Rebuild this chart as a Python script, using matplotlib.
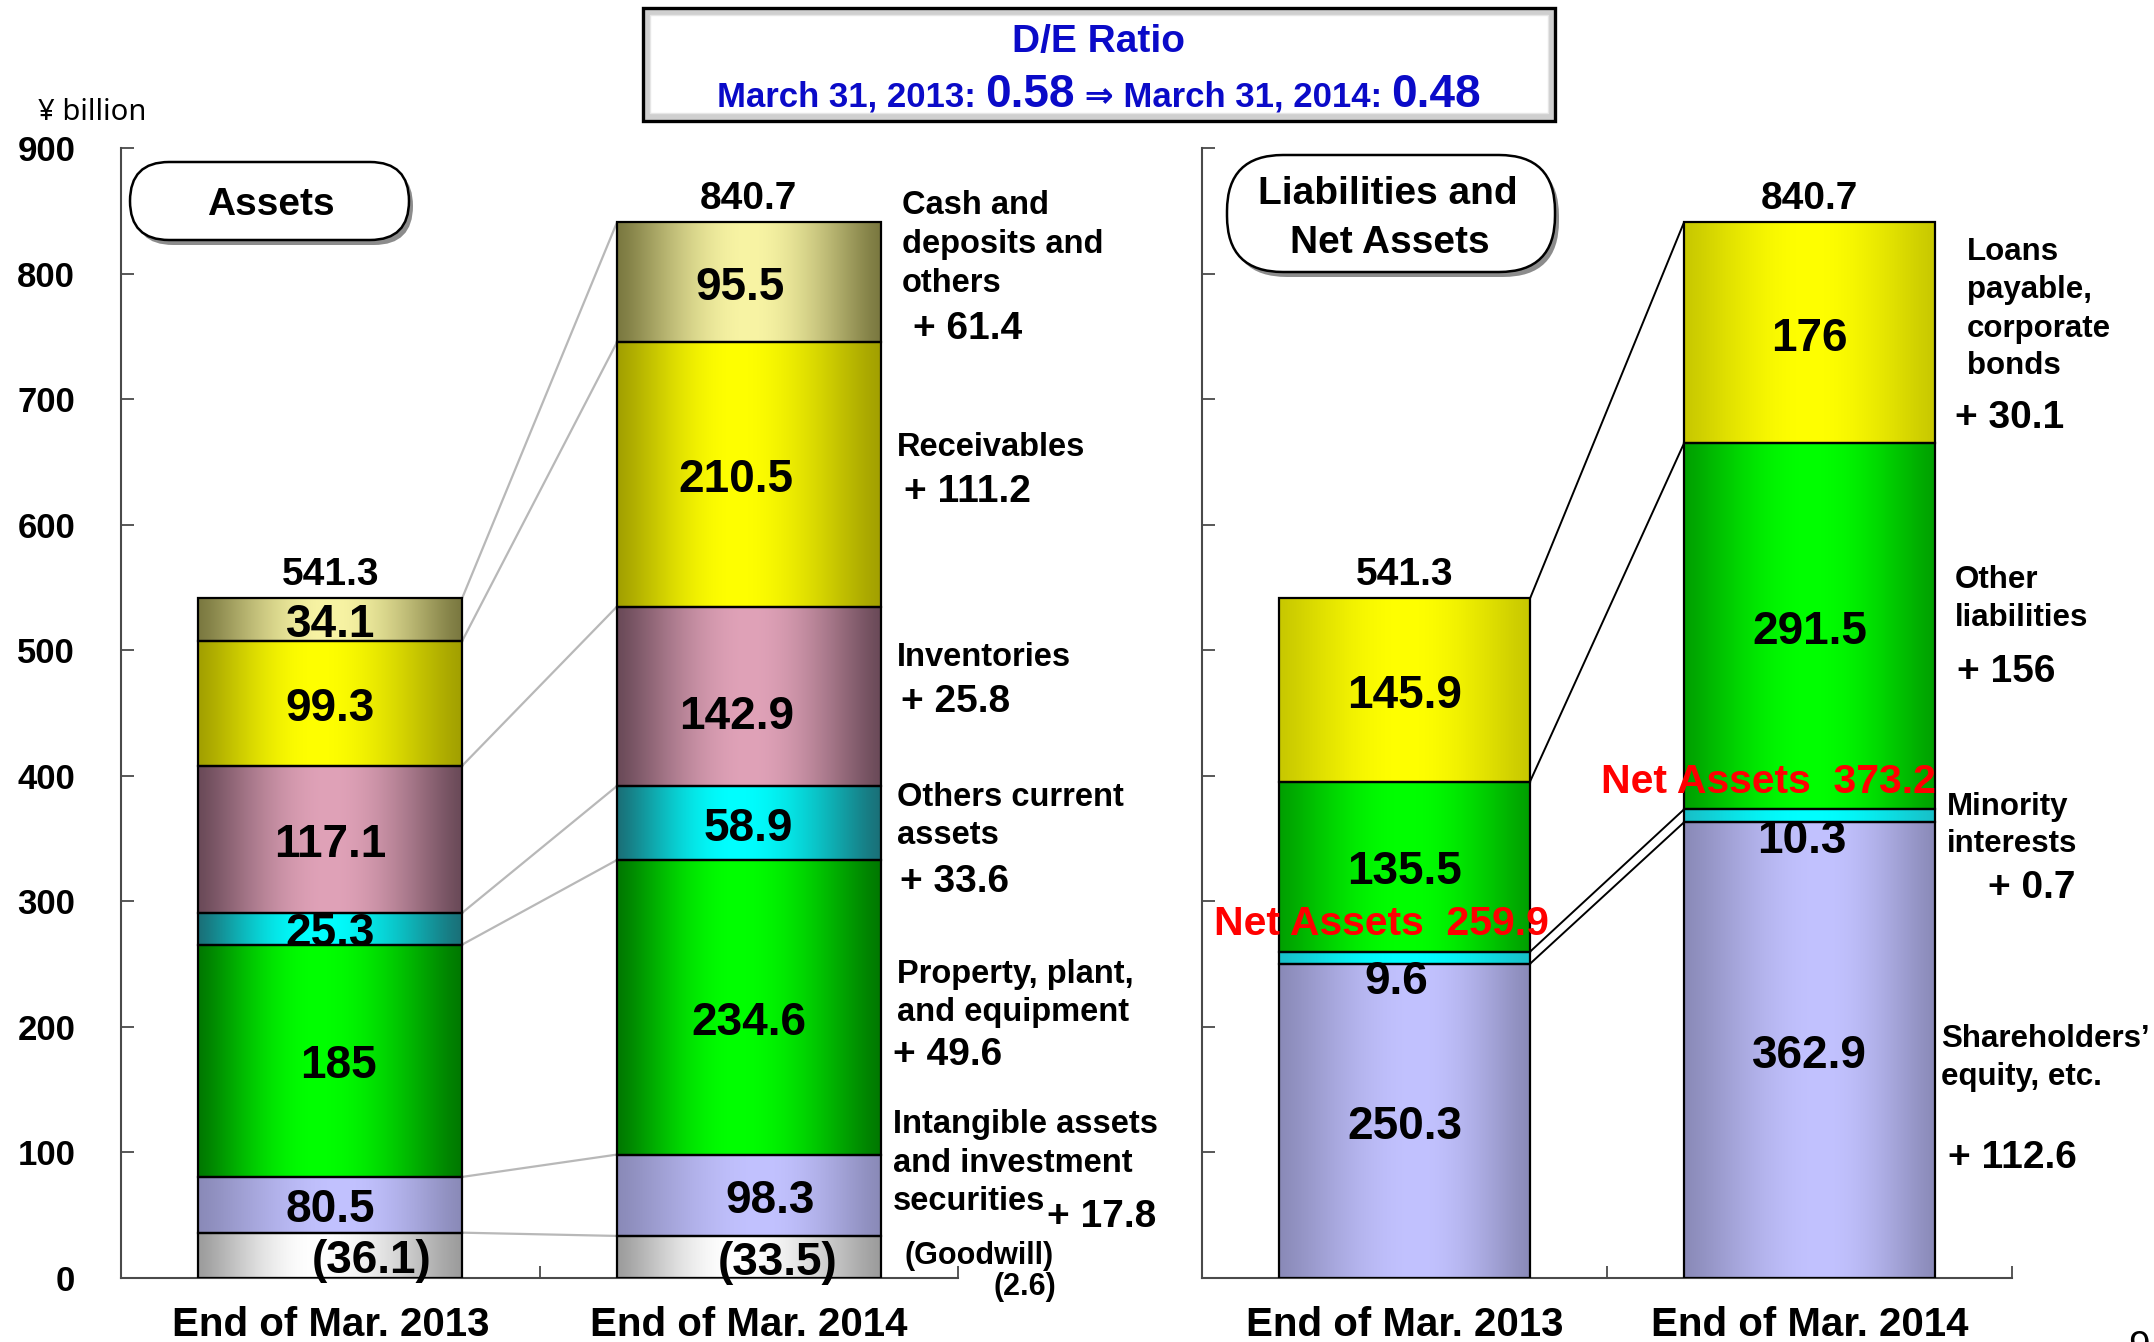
import numpy as np
import matplotlib
matplotlib.use("Agg")
import matplotlib.pyplot as plt
from matplotlib.patches import FancyBboxPatch, Rectangle
from matplotlib.transforms import IdentityTransform
from matplotlib.colors import to_rgb

W, H, DPI = 2154, 1342, 100

periods = ["End of Mar. 2013", "End of Mar. 2014"]

# Assets (¥ billion); intangibles figure includes goodwill
goodwill = [36.1, 33.5]
intangibles_investments = [80.5, 98.3]
ppe = [185.0, 234.6]
other_current = [25.3, 58.9]
inventories = [117.1, 142.9]
receivables = [99.3, 210.5]
cash_deposits = [34.1, 95.5]
total_assets = [541.3, 840.7]

# Liabilities and net assets (¥ billion)
shareholders_equity = [250.3, 362.9]
minority_interests = [9.6, 10.3]
other_liabilities = [135.5, 291.5]
loans_bonds = [145.9, 176.0]
total_liab_net = [541.3, 840.7]
net_assets = [259.9, 373.2]

de_dates = ["March 31, 2013", "March 31, 2014"]
de_ratio = [0.58, 0.48]

y_ticks = [0, 100, 200, 300, 400, 500, 600, 700, 800, 900]

FONT = ["Liberation Sans", "DejaVu Sans"]
plt.rcParams["font.family"] = FONT

# edge colour, centre colour, position of brightest point
STYLE = {
    "gray":      ("#9c9c9c", "#ffffff", 0.45),
    "lavender":  ("#8a8ab8", "#c2c2ff", 0.55),
    "green":     ("#007800", "#00ff00", 0.45),
    "cyan":      ("#1a7078", "#00ffff", 0.45),
    "pink":      ("#6a4a58", "#e0a2b8", 0.5),
    "yellow":    ("#a2a000", "#ffff00", 0.45),
    "olive":     ("#7a7840", "#f8f4a4", 0.5),
    "r_yellow":  ("#c8c800", "#ffff00", 0.5),
    "r_green":   ("#00a000", "#00ff00", 0.5),
    "r_cyan":    ("#18c0c8", "#00ffff", 0.5),
    "r_lavender": ("#8a8ab8", "#c2c2ff", 0.55),
}

LABEL_SHIFT = -4.5   # value labels sit slightly below segment midpoints


def gradient_fill(ax, patch, style):
    edge, centre, peak = STYLE[style]
    t = np.linspace(0, 1, 256)
    w = np.where(t < peak, t / peak, (1 - t) / (1 - peak))
    w = np.sin(w * np.pi / 2) ** 1.2
    e, c = np.array(to_rgb(edge)), np.array(to_rgb(centre))
    img = (e + (c - e) * w[:, None])[None, :, :]
    x0, y0 = patch.get_x(), patch.get_y()
    im = ax.imshow(img, extent=[x0, x0 + patch.get_width(), y0, y0 + patch.get_height()],
                   aspect="auto", interpolation="bilinear", zorder=2)
    im.set_clip_path(patch)


def stack(ax, x, segs, width):
    bottom = 0.0
    tops = []
    for value, style, base in segs:
        b = bottom if base is None else base
        rect = ax.bar(x, value, width, bottom=b, facecolor="none",
                      edgecolor="black", linewidth=1.6, zorder=3)[0]
        gradient_fill(ax, rect, style)
        bottom = b + value
        tops.append(bottom)
    return tops


fig = plt.figure(figsize=(W / DPI, H / DPI), dpi=DPI)


def px_axes(x0, x1, y_top, y_bottom):
    return fig.add_axes([x0 / W, 1 - y_bottom / H, (x1 - x0) / W, (y_bottom - y_top) / H])


def style_axes(ax, labels):
    ax.set_xlim(-0.5, 1.5)
    ax.set_ylim(0, 900)
    for s in ("top", "right"):
        ax.spines[s].set_visible(False)
    for s in ("left", "bottom"):
        ax.spines[s].set_color("#4a4a4a")
        ax.spines[s].set_linewidth(1.5)
    ax.set_yticks(y_ticks)
    ax.tick_params(axis="y", direction="in", length=9, width=1.3, color="#4a4a4a",
                   labelleft=labels, pad=33, labelsize=25)
    for lab in ax.get_yticklabels():
        lab.set_fontweight("bold")
    ax.set_xticks([0, 1])
    ax.set_xticklabels(periods, fontsize=29, fontweight="bold")
    ax.tick_params(axis="x", length=0, pad=20)
    ax.set_xticks([0.5, 1.5], minor=True)
    ax.tick_params(axis="x", which="minor", direction="in", length=9, width=1.3, color="#4a4a4a")
    ax.patch.set_alpha(0)


# ---------------- Assets panel ----------------
axL = px_axes(121, 958, 148, 1278)
BW_L = 0.63
asset_tops = []
# horizontal / vertical nudges of the value labels, per period and segment
DX_L = [[0.10, 0.0, 0.02, 0.0, 0.0, 0.0, 0.0],
        [0.07, 0.05, 0.0, 0.0, -0.03, -0.03, -0.02]]
DY_L = [[0, 0, 0, 0, 0, 0, 0],
        [0, 0, -8, 0, -12, 0, 0]]
for i in range(2):
    segs = [
        (goodwill[i], "gray", 0.0),
        (intangibles_investments[i] - goodwill[i], "lavender", goodwill[i]),
        (ppe[i], "green", None),
        (other_current[i], "cyan", None),
        (inventories[i], "pink", None),
        (receivables[i], "yellow", None),
        (cash_deposits[i], "olive", None),
    ]
    tops = stack(axL, i, segs, BW_L)
    asset_tops.append(tops)
    vals = [goodwill[i], intangibles_investments[i], ppe[i], other_current[i],
            inventories[i], receivables[i], cash_deposits[i]]
    bottoms = [0.0] + tops[:-1]
    for k, v in enumerate(vals):
        txt = f"({v:g})" if k == 0 else f"{v:g}"
        axL.text(i + DX_L[i][k], (bottoms[k] + tops[k]) / 2 + LABEL_SHIFT + DY_L[i][k], txt,
                 ha="center", va="center", fontsize=33, fontweight="bold", zorder=5)
    axL.text(i, total_assets[i] + 4, f"{total_assets[i]:g}", ha="center", va="bottom",
             fontsize=28, fontweight="bold", zorder=5)

for k in range(len(asset_tops[0])):
    axL.plot([0 + BW_L / 2, 1 - BW_L / 2], [asset_tops[0][k], asset_tops[1][k]],
             color="#b8b8b8", lw=1.6, zorder=1, solid_capstyle="butt")
style_axes(axL, True)

# ---------------- Liabilities and net assets panel ----------------
axR = px_axes(1202, 2012, 148, 1278)
BW_R = 0.62
liab_tops = []
NET_DX = [0.046, 0.003]
for i in range(2):
    segs = [
        (shareholders_equity[i], "r_lavender", None),
        (minority_interests[i], "r_cyan", None),
        (other_liabilities[i], "r_green", None),
        (loans_bonds[i], "r_yellow", None),
    ]
    tops = stack(axR, i, segs, BW_R)
    liab_tops.append(tops)
    bottoms = [0.0] + tops[:-1]
    axR.text(i, (bottoms[0] + tops[0]) / 2 + LABEL_SHIFT, f"{shareholders_equity[i]:g}",
             ha="center", va="center", fontsize=33, fontweight="bold", zorder=5)
    axR.text(i - 0.02, tops[0] + 3, f"{minority_interests[i]:g}", ha="center", va="top",
             fontsize=33, fontweight="bold", zorder=5)
    axR.text(i, (bottoms[2] + tops[2]) / 2 + LABEL_SHIFT, f"{other_liabilities[i]:g}",
             ha="center", va="center", fontsize=33, fontweight="bold", zorder=5)
    axR.text(i, (bottoms[3] + tops[3]) / 2 + LABEL_SHIFT, f"{loans_bonds[i]:g}",
             ha="center", va="center", fontsize=33, fontweight="bold", zorder=5)
    axR.text(i, total_liab_net[i] + 4, f"{total_liab_net[i]:g}", ha="center", va="bottom",
             fontsize=28, fontweight="bold", zorder=5)
    axR.text(i + BW_R / 2 + NET_DX[i], net_assets[i] + 7, f"Net Assets  {net_assets[i]:g}",
             ha="right", va="bottom", fontsize=29.5, fontweight="bold", color="#ff0000", zorder=6)

for k in range(len(liab_tops[0])):
    axR.plot([0 + BW_R / 2, 1 - BW_R / 2], [liab_tops[0][k], liab_tops[1][k]],
             color="black", lw=1.4, zorder=1, solid_capstyle="butt")
style_axes(axR, False)


# ---------------- Figure-level decorations ----------------
def ftext(x, y, s, **kw):
    return fig.text(x / W, 1 - y / H, s, **kw)


def pill(x0, y0, x1, y1, r):
    shadow = FancyBboxPatch((x0 + 4, H - y1 - 5), x1 - x0, y1 - y0,
                            boxstyle=f"round,pad=0,rounding_size={r}",
                            transform=IdentityTransform(), fc="#8c8c8c", ec="none", zorder=0)
    body = FancyBboxPatch((x0, H - y1), x1 - x0, y1 - y0,
                          boxstyle=f"round,pad=0,rounding_size={r}",
                          transform=IdentityTransform(), fc="white", ec="black", lw=1.8, zorder=1)
    fig.add_artist(shadow)
    fig.add_artist(body)


pill(130, 162, 409, 240, 39)
ftext(271, 205, "Assets", ha="center", va="center", fontsize=28, fontweight="bold")
pill(1227, 155, 1555, 272, 56)
ftext(1388, 194, "Liabilities and", ha="center", va="center", fontsize=28, fontweight="bold")
ftext(1390, 243, "Net Assets", ha="center", va="center", fontsize=28, fontweight="bold")

ftext(38, 112, "¥ billion", ha="left", va="center", fontsize=21,
      family=["Noto Sans", "DejaVu Sans"])

# D/E ratio box
fig.add_artist(Rectangle((643, H - 121), 912, 113, transform=IdentityTransform(),
                         fc="#cfcfcf", ec="black", lw=2.4, zorder=0))
fig.add_artist(Rectangle((650, H - 113), 898, 98, transform=IdentityTransform(),
                         fc="white", ec="#e6e6e6", lw=1.0, zorder=0))
BLUE = "#0a0ac8"
ftext(1099, 42, "D/E Ratio", ha="center", va="center", fontsize=28, fontweight="bold", color=BLUE)

pieces = [(f"{de_dates[0]}: ", 25), (f"{de_ratio[0]:.2f}", 33),
          (f" ⇒ {de_dates[1]}: ", 25), (f"{de_ratio[1]:.2f}", 33)]
renderer = fig.canvas.get_renderer()
widths = []
arts = []
for s, fs in pieces:
    t = ftext(0, 107, s, ha="left", va="baseline", fontsize=fs, fontweight="bold",
              color=BLUE, family=FONT)
    widths.append(t.get_window_extent(renderer).width)
    arts.append(t)
x = 1099 - sum(widths) / 2
for t, w in zip(arts, widths):
    t.set_x(x / W)
    x += w


def d(a, b):
    return round(b - a, 1)


NOTE_DY = 3

# Asset change notes
asset_notes = [
    (902, [(203, "Cash and"), (242, "deposits and"), (280, "others")],
     (913, 326, f"+ {d(*cash_deposits):g}")),
    (897, [(445, "Receivables")], (904, 489, f"+ {d(*receivables):g}")),
    (897, [(654, "Inventories")], (901, 699, f"+ {d(*inventories):g}")),
    (897, [(794, "Others current"), (832, "assets")], (900, 879, f"+ {d(*other_current):g}")),
    (897, [(971, "Property, plant,"), (1010, "and equipment")], (893, 1052, f"+ {d(*ppe):g}")),
    (893, [(1122, "Intangible assets"), (1161, "and investment"), (1198, "securities")],
     (1047, 1214, f"+ {d(*intangibles_investments):g}")),
]
for xl, lines, (xc, yc, ch) in asset_notes:
    for yy, s in lines:
        ftext(xl, yy + NOTE_DY, s, ha="left", va="center", fontsize=23.5, fontweight="bold")
    ftext(xc, yc + NOTE_DY, ch, ha="left", va="center", fontsize=28, fontweight="bold")
ftext(904, 1253 + NOTE_DY, "(Goodwill)", ha="left", va="center", fontsize=22, fontweight="bold")
ftext(1025, 1284 + NOTE_DY, f"({abs(d(*goodwill)):g})", ha="center", va="center", fontsize=22,
      fontweight="bold")

# Liability change notes
liab_notes = [
    (1967, [(249, "Loans"), (287, "payable,"), (326, "corporate"), (363, "bonds")],
     (1955, 415, f"+ {d(*loans_bonds):g}")),
    (1955, [(577, "Other"), (615, "liabilities")], (1957, 669, f"+ {d(*other_liabilities):g}")),
    (1947, [(804, "Minority"), (841, "interests")], (1988, 885, f"+ {d(*minority_interests):g}")),
    (1941, [(1036, "Shareholders’"), (1074, "equity, etc.")],
     (1948, 1155, f"+ {d(*shareholders_equity):g}")),
]
for xl, lines, (xc, yc, ch) in liab_notes:
    for yy, s in lines:
        ftext(xl, yy + NOTE_DY, s, ha="left", va="center", fontsize=22.5, fontweight="bold")
    ftext(xc, yc + NOTE_DY, ch, ha="left", va="center", fontsize=28, fontweight="bold")

# page number at the lower right edge
ftext(2128, 1330, "9", ha="left", va="top", fontsize=28)

fig.savefig("out.png", dpi=DPI)
